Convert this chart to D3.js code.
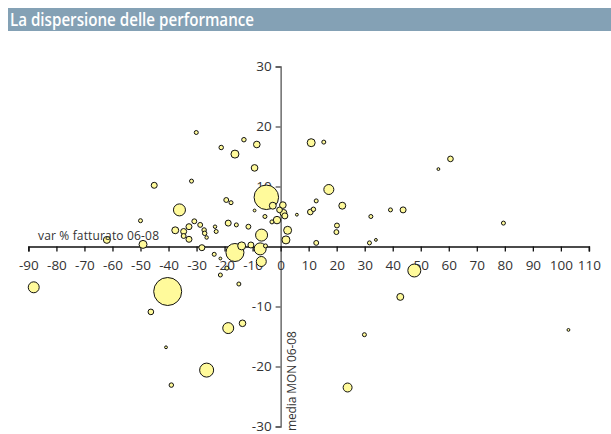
<!DOCTYPE html>
<html><head><meta charset="utf-8">
<script src="https://cdn.jsdelivr.net/npm/d3@7"></script>
<style>body{margin:0;background:#fff;}svg{display:block;}</style>
</head><body><svg id="c" width="611" height="434"></svg>
<script>
const title = "La dispersione delle performance";
const xTitle = "var % fatturato 06-08";
const yTitle = "media MON 06-08";
const xTicks = [-90,-80,-70,-60,-50,-40,-30,-20,-10,0,10,20,30,40,50,60,70,80,90,100,110];
const yTicks = [-30,-20,-10,0,10,20,30];
// bubble data: x = var % fatturato, y = media MON, s = size
const xs = [-30.1,-21.2,-13.1,-8.5,-16.3,-9.3,-45.1,-31.8,-36.1,-50.0,-37.6,-34.6,-34.6,-32.7,-32.7,-30.8,-28.7,-27.3,-27.1,-26.4,-23.4,-23.0,-19.4,-17.7,-18.7,-15.8,-11.5,-9.3,-5.6,-6.8,-5.1,-2.8,-1.3,-3.1,-0.4,0.8,1.0,1.5,2.5,1.9,5.8,10.9,15.4,12.7,10.6,11.7,12.7,-62.0,-49.1,-28.1,-23.7,-21.5,-19.2,-21.5,-16.3,-13.9,-10.6,-14.9,-7.3,-6.9,-5.4,17.2,22.0,20.1,19.9,32.2,39.2,43.7,31.7,34.0,56.3,60.6,79.5,47.7,42.7,29.9,23.9,102.7,-88.1,-40.3,-46.3,-40.9,-39.0,-26.4,-18.7,-13.6];
const ys = [19.0,16.5,17.8,17.0,15.4,13.1,10.2,10.9,6.1,4.3,2.7,2.5,1.75,3.3,1.2,4.2,3.6,2.75,2.2,1.5,3.3,2.5,7.75,7.3,3.9,3.6,3.3,6.0,5.0,1.9,8.2,6.8,4.4,4.1,6.1,6.9,5.6,5.1,2.7,1.1,5.3,17.3,17.4,7.6,5.75,6.2,0.6,1.1,0.35,-0.2,-1.3,-2.0,-3.6,-4.75,-1.0,0.1,0.25,-6.25,-0.4,-2.5,0.1,9.5,6.8,3.5,2.4,5.0,6.1,6.1,0.6,1.1,12.9,14.6,3.9,-4.0,-8.4,-14.7,-23.5,-13.9,-6.8,-7.5,-10.9,-16.8,-23.1,-20.6,-13.6,-12.8];
const sizes = [4,5,5,11,16,11,9,4,36,4,12,9,6,9,9,6,6,5,5,3,3,4,6,4,9,4,6,2,4,36,150,12,14,4,8,11,12,9,16,16,2,16,4,4,8,5,6,12,16,9,4,2,4,4,81,16,9,4,36,25,4,25,12,6,6,4,4,9,4,2,2,8,4,42,12,4,20,2,30,196,8,2,5,49,30,11];

const data = xs.map((x,i)=>({x, y: ys[i], s: sizes[i]}));
const svg = d3.select("#c");
const font = "'Open Sans', sans-serif";
const fmt = d => String(d);

// title bar
svg.append("rect").attr("x",8).attr("y",8).attr("width",603).attr("height",23).attr("fill","#84A1B5");
svg.append("text").attr("x",10).attr("y",26).attr("fill","#fff")
  .style("font-family",font).style("font-size","17.5px").style("font-weight","600")
  .attr("textLength",244).attr("lengthAdjust","spacingAndGlyphs").text(title);

const x = d3.scaleLinear().domain([-90,110]).range([28.4,588.9]);
const y = d3.scaleLinear().domain([-30,30]).range([426.5,66.5]);
const r = d3.scaleSqrt().domain([0,196]).range([0,14]);

// y axis
const gy = svg.append("g").attr("transform",`translate(${x(0)},0)`)
  .call(d3.axisLeft(y).tickValues(yTicks).tickSize(5).tickPadding(4).tickFormat(fmt));
gy.select(".domain").attr("stroke","#555").attr("stroke-width",1.3);
gy.selectAll(".tick line").attr("stroke","#555").attr("stroke-width",1.3);
gy.selectAll(".tick text").style("font-family",font).style("font-size","13.5px").attr("fill","#333");
gy.selectAll(".tick").filter(d=>d===0).remove();

// x axis
const gx = svg.append("g").attr("transform",`translate(0,${y(0)})`)
  .call(d3.axisBottom(x).tickValues(xTicks).tickSize(5).tickPadding(9).tickFormat(fmt));
gx.select(".domain").attr("stroke","#111").attr("stroke-width",1.5);
gx.selectAll(".tick line").attr("stroke","#111").attr("stroke-width",1.3);
gx.selectAll(".tick text").style("font-family",font).style("font-size","13.5px").attr("fill","#333");

// bubbles
svg.append("g").selectAll("circle").data(data.slice().sort((a,b)=>b.s-a.s)).join("circle")
  .attr("cx",d=>x(d.x)).attr("cy",d=>y(d.y)).attr("r",d=>r(d.s))
  .attr("fill","#FFFA9B").attr("stroke","#111").attr("stroke-width",1);

// axis titles
svg.append("text").attr("x",38).attr("y",240).attr("fill","#333")
  .style("font-family",font).style("font-size","12px").attr("textLength",121).text(xTitle);
svg.append("text").attr("transform",`translate(${x(0)+15},431) rotate(-90)`).attr("fill","#333")
  .style("font-family",font).style("font-size","12px").attr("textLength",100).text(yTitle);
</script></body></html>
